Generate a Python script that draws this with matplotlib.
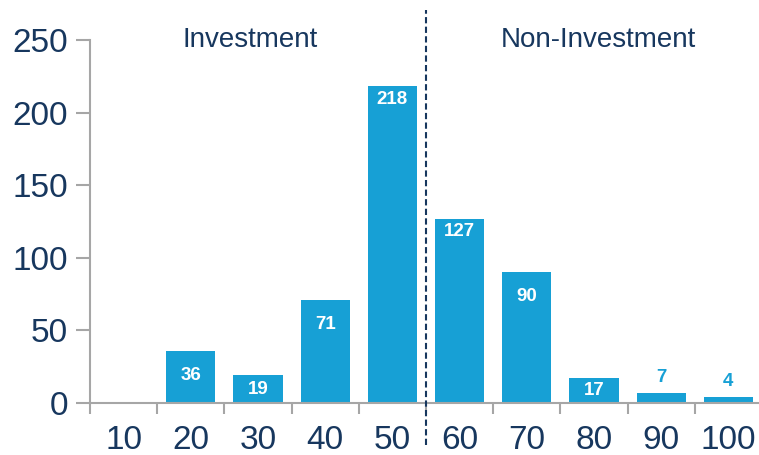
import matplotlib.pyplot as plt
import numpy as np

plt.rcParams['font.family'] = ['Liberation Sans', 'DejaVu Sans']

buckets = ['10', '20', '30', '40', '50', '60', '70', '80', '90', '100']
counts = [0, 36, 19, 71, 218, 127, 90, 17, 7, 4]
groups = ['Investment', 'Non-Investment']

bar_col = '#17a0d5'
txt_col = '#17375e'
axis_col = '#a6a6a6'

fig = plt.figure(figsize=(7.59, 4.55), dpi=100)
ax = fig.add_axes([90/759, 1-403/455, 672/759, 363/455])

x = np.arange(len(buckets))
bars = ax.bar(x, counts, width=0.73, color=bar_col)

ax.set_xlim(-0.5, len(buckets) - 0.5)
ax.set_ylim(0, 250)
ax.set_yticks(np.arange(0, 251, 50))

# category labels in the middle, tick marks on the boundaries
ax.set_xticks(x)
ax.set_xticklabels(buckets)
ax.set_xticks(np.arange(-0.5, len(buckets) - 0.5, 1), minor=True)
ax.tick_params(axis='x', which='major', length=0, pad=16, labelsize=24, labelcolor=txt_col)
ax.tick_params(axis='x', which='minor', length=8, width=1.5, color=axis_col, direction='out')
ax.tick_params(axis='y', length=10, width=1.5, color=axis_col, direction='out',
               pad=6, labelsize=24, labelcolor=txt_col)

for s in ['top', 'right']:
    ax.spines[s].set_visible(False)
for s in ['left', 'bottom']:
    ax.spines[s].set_color(axis_col)
    ax.spines[s].set_linewidth(1.5)

# value labels
for b, v in zip(bars, counts):
    if v == 0:
        continue
    cx = b.get_x() + b.get_width() / 2
    if v < 10:
        ax.annotate(str(v), (cx, v), xytext=(0, 11), textcoords='offset points',
                    ha='center', va='center', color=bar_col, fontsize=13.5, fontweight='bold')
    else:
        off = 9.5 if v >= 100 else 17.5
        off = min(off, v * 1.452 * 0.72 / 2)
        ax.annotate(str(v), (cx, v), xytext=(0, -off), textcoords='offset points',
                    ha='center', va='center', color='white', fontsize=13.5, fontweight='bold')

# split between the two rating groups
ax.plot([4.5, 4.5], [-29, 271], color=txt_col, lw=1.5, ls=(0, (3, 1.6)), clip_on=False, zorder=5)

ax.text(1.88, 1.0, groups[0], transform=ax.get_xaxis_transform(), ha='center', va='center',
        fontsize=20, color=txt_col)
ax.text(7.06, 1.0, groups[1], transform=ax.get_xaxis_transform(), ha='center', va='center',
        fontsize=20, color=txt_col)

fig.savefig('out.png', dpi=100)
